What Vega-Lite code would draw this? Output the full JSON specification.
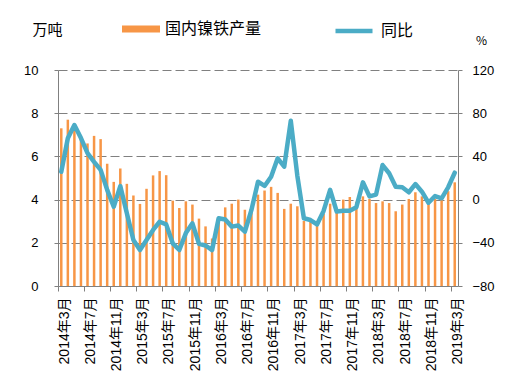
{
  "$schema": "https://vega.github.io/schema/vega-lite/v6.json",
  "autosize": "none",
  "padding": {"left": 58, "top": 70, "right": 54, "bottom": 105},
  "width": 400,
  "height": 216,
  "background": "white",
  "config": {
    "view": {"stroke": null},
    "font": "Liberation Sans, Noto Sans CJK SC, sans-serif",
    "axis": {"labelFont": "Liberation Sans, Noto Sans CJK SC, sans-serif", "titleFont": "Noto Sans CJK SC, sans-serif", "labelColor": "#000000", "titleColor": "#000000", "domainColor": "#808080", "tickColor": "#808080"},
    "legend": {"labelFont": "Noto Sans CJK SC, sans-serif", "labelColor": "#000000"}
  },
  "data": {
    "values": [
      {"m": "2014年3月", "v": 7.3, "y": 25.8},
      {"m": "2014年4月", "v": 7.7, "y": 56.8},
      {"m": "2014年5月", "v": 7.2, "y": 69},
      {"m": "2014年6月", "v": 6.8, "y": 57},
      {"m": "2014年7月", "v": 6.6, "y": 43},
      {"m": "2014年8月", "v": 6.95, "y": 35},
      {"m": "2014年9月", "v": 6.8, "y": 27.5},
      {"m": "2014年10月", "v": 5.66, "y": 9},
      {"m": "2014年11月", "v": 4.82, "y": -6.6},
      {"m": "2014年12月", "v": 5.44, "y": 12.5},
      {"m": "2015年1月", "v": 4.73, "y": -12.7},
      {"m": "2015年2月", "v": 4.19, "y": -37.4},
      {"m": "2015年3月", "v": 3.8, "y": -46.7},
      {"m": "2015年4月", "v": 4.5, "y": -37.4},
      {"m": "2015年5月", "v": 5.12, "y": -28.1},
      {"m": "2015年6月", "v": 5.32, "y": -20.5},
      {"m": "2015年7月", "v": 5.13, "y": -23},
      {"m": "2015年8月", "v": 3.95, "y": -40.5},
      {"m": "2015年9月", "v": 3.61, "y": -46.7},
      {"m": "2015年10月", "v": 3.92, "y": -31},
      {"m": "2015年11月", "v": 3.77, "y": -22},
      {"m": "2015年12月", "v": 3.12, "y": -41},
      {"m": "2016年1月", "v": 2.76, "y": -42.5},
      {"m": "2016年2月", "v": 2.2, "y": -46.7},
      {"m": "2016年3月", "v": 3.15, "y": -17.3},
      {"m": "2016年4月", "v": 3.64, "y": -18.5},
      {"m": "2016年5月", "v": 3.81, "y": -25},
      {"m": "2016年6月", "v": 4.0, "y": -24},
      {"m": "2016年7月", "v": 3.53, "y": -29.7},
      {"m": "2016年8月", "v": 3.55, "y": -9.6},
      {"m": "2016年9月", "v": 4.23, "y": 16.6},
      {"m": "2016年10月", "v": 4.42, "y": 12.6},
      {"m": "2016年11月", "v": 4.59, "y": 21.2},
      {"m": "2016年12月", "v": 4.31, "y": 38.2},
      {"m": "2017年1月", "v": 3.57, "y": 30.5},
      {"m": "2017年2月", "v": 3.81, "y": 73},
      {"m": "2017年3月", "v": 3.69, "y": 22},
      {"m": "2017年4月", "v": 3.01, "y": -17.3},
      {"m": "2017年5月", "v": 3.05, "y": -18.9},
      {"m": "2017年6月", "v": 2.95, "y": -23},
      {"m": "2017年7月", "v": 3.35, "y": -10.5},
      {"m": "2017年8月", "v": 3.81, "y": 9},
      {"m": "2017年9月", "v": 3.6, "y": -11},
      {"m": "2017年10月", "v": 4.0, "y": -10.3},
      {"m": "2017年11月", "v": 4.12, "y": -10.3},
      {"m": "2017年12月", "v": 3.9, "y": -7},
      {"m": "2018年1月", "v": 4.15, "y": 16},
      {"m": "2018年2月", "v": 4.03, "y": 3},
      {"m": "2018年3月", "v": 3.84, "y": 4.6},
      {"m": "2018年4月", "v": 3.92, "y": 32},
      {"m": "2018年5月", "v": 3.84, "y": 24.4},
      {"m": "2018年6月", "v": 3.46, "y": 11.9},
      {"m": "2018年7月", "v": 3.77, "y": 11.4},
      {"m": "2018年8月", "v": 4.03, "y": 6.8},
      {"m": "2018年9月", "v": 4.34, "y": 14.4},
      {"m": "2018年10月", "v": 4.15, "y": 7.3},
      {"m": "2018年11月", "v": 3.84, "y": -2.9},
      {"m": "2018年12月", "v": 4.03, "y": 3.3},
      {"m": "2019年1月", "v": 4.15, "y": 1.2},
      {"m": "2019年2月", "v": 4.39, "y": 11.4},
      {"m": "2019年3月", "v": 4.8, "y": 24.9}
    ]
  },
  "encoding": {
    "x": {
      "field": "m",
      "type": "nominal",
      "sort": null,
      "scale": {"paddingInner": 0, "paddingOuter": 0},
      "axis": {
        "title": null,
        "values": ["2014年3月", "2014年7月", "2014年11月", "2015年3月", "2015年7月", "2015年11月", "2016年3月", "2016年7月", "2016年11月", "2017年3月", "2017年7月", "2017年11月", "2018年3月", "2018年7月", "2018年11月", "2019年3月"],
        "labelAngle": -90,
        "labelAlign": "right",
        "labelBaseline": "middle",
        "labelFontSize": 14,
        "tickSize": 5,
        "labelPadding": 6,
        "bandPosition": 0,
        "labelOffset": 3.3,
        "grid": false
      }
    }
  },
  "layer": [
    {
      "mark": {"type": "bar", "size": 2.5},
      "encoding": {
        "y": {
          "field": "v",
          "type": "quantitative",
          "scale": {"domain": [0, 10], "nice": false},
          "axis": {
            "orient": "left",
            "values": [0, 2, 4, 6, 8, 10],
            "grid": true,
            "gridDash": [9, 4],
            "gridColor": "#808080",
            "gridWidth": 1,
            "tickSize": 4,
            "labelPadding": 16,
            "labelFontSize": 13,
            "title": "万吨",
            "titleAngle": 0,
            "titleX": -11,
            "titleY": -41,
            "titleAlign": "center",
            "titleBaseline": "middle",
            "titleFontSize": 15,
            "titleFontWeight": "normal"
          }
        },
        "fill": {
          "datum": "国内镍铁产量",
          "scale": {"range": ["#F79646"]},
          "legend": {
            "title": null,
            "orient": "none",
            "legendX": 64,
            "legendY": -60,
            "padding": 0,
            "symbolType": "M-1,-0.184H1V0.184H-1Z",
            "symbolSize": 1444,
            "symbolStrokeWidth": 0,
            "labelFontSize": 16,
            "labelOffset": 5
          }
        }
      }
    },
    {
      "mark": {"type": "line", "strokeWidth": 4.5, "strokeJoin": "round", "strokeCap": "round"},
      "encoding": {
        "y": {
          "field": "y",
          "type": "quantitative",
          "scale": {"domain": [-80, 120], "nice": false},
          "axis": {
            "orient": "right",
            "values": [-80, -40, 0, 40, 80, 120],
            "grid": false,
            "tickSize": 4,
            "labelPadding": 10,
            "labelFontSize": 13,
            "title": "%",
            "titleAngle": 0,
            "titleX": 23,
            "titleY": -30,
            "titleAlign": "center",
            "titleBaseline": "middle",
            "titleFontSize": 12,
            "titleFontWeight": "normal"
          }
        },
        "stroke": {
          "datum": "同比",
          "scale": {"range": ["#4BACC6"]},
          "legend": {
            "title": null,
            "orient": "none",
            "legendX": 275,
            "legendY": -60,
            "padding": 0,
            "symbolType": "stroke",
            "symbolSize": 1369,
            "symbolStrokeWidth": 4.5,
            "labelFontSize": 16,
            "labelOffset": 6
          }
        }
      }
    }
  ],
  "resolve": {"scale": {"y": "independent"}}
}
